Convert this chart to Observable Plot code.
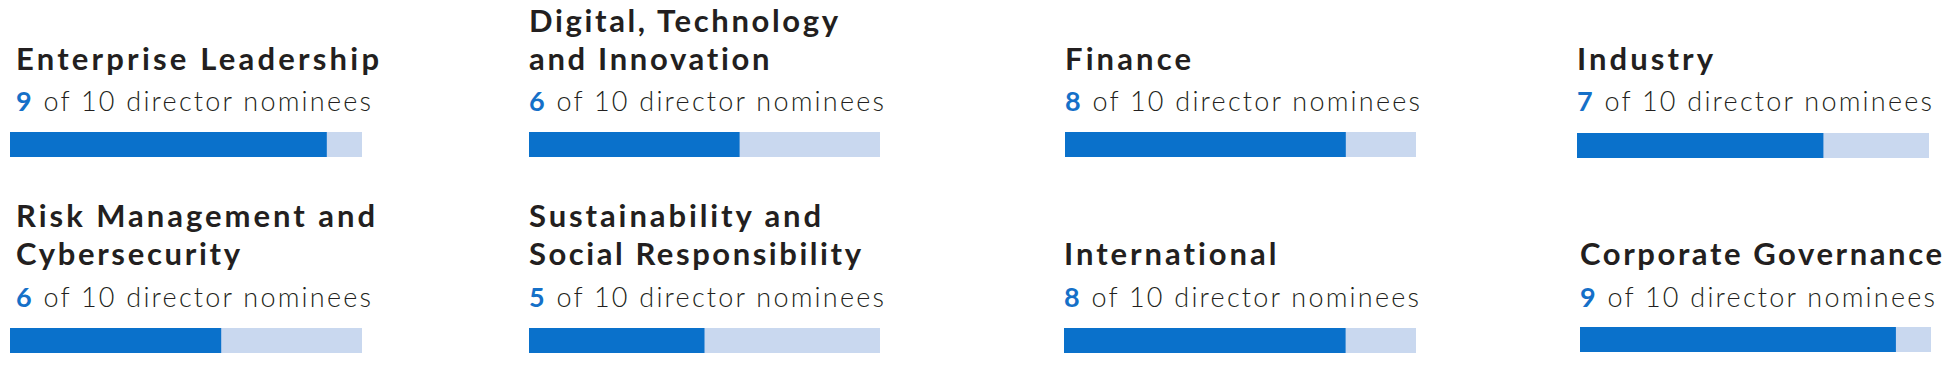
<!DOCTYPE html>
<html>
<head>
<meta charset="utf-8">
<script src="https://cdn.jsdelivr.net/npm/d3@7"></script>
<script src="https://cdn.jsdelivr.net/npm/@observablehq/plot@0.6"></script>
<style>
  html, body { margin: 0; padding: 0; background: #ffffff; }
  #chart { position: relative; width: 1951px; height: 374px; overflow: hidden; font-family: Lato, "Noto Sans", sans-serif; color: #231f20; }
  .line { position: absolute; white-space: nowrap; line-height: 1; }
  .title { font-weight: 700; font-size: 31px; }
  .sub { font-weight: 300; font-size: 27px; }
  .num { font-weight: 700; color: #1570c8; }
  .bar { position: absolute; }
  .bar svg { display: block; }
</style>
</head>
<body>
<div id="chart"></div>
<script>
// ---- data ----
const skills = [
  "Enterprise Leadership",
  "Digital, Technology\nand Innovation",
  "Finance",
  "Industry",
  "Risk Management and\nCybersecurity",
  "Sustainability and\nSocial Responsibility",
  "International",
  "Corporate Governance"
];
const nominees = [9, 6, 8, 7, 6, 5, 8, 9];
const totalNominees = 10;
const subtitleText = "of 10 director nominees";

// ---- layout ----
const textX  = [16, 529, 1065, 1577, 16, 529, 1064, 1580];
const barX   = [10, 529, 1065, 1577, 10, 529, 1064, 1580];
const barW   = [352, 351, 351, 352, 352, 351, 352, 351];
const barTop = [132, 132, 132, 133, 328, 328, 328, 327];
const titleBase = [70, 70, 70, 70, 265, 265, 265, 265];
const subBase   = [111, 111, 111, 111, 307, 307, 307, 307];
// ink widths of each title line in the reference (its typeface is wider than Lato)
const titleLineWidths = [[363], [309, 241], [126], [136], [359, 224], [292, 332], [213], [362]];
const subWidth = 355;
const lineGap = 38;
const barH = 25;
const darkBlue = "#0a71cb";
const lightBlue = "#c9d8ef";

const chart = document.getElementById("chart");
const ASC = 0.887; // baseline offset (em) with line-height 1 for Lato

function track(el, target) {
  const chars = el.textContent.length;
  const w = el.getBoundingClientRect().width;
  el.style.letterSpacing = ((target - w) / (chars - 1)) + "px";
}

skills.forEach((skill, i) => {
  const lines = skill.split("\n");
  lines.forEach((ln, j) => {
    const d = document.createElement("div");
    d.className = "line title";
    const base = titleBase[i] - (lines.length - 1 - j) * lineGap;
    d.style.left = textX[i] + "px";
    d.style.top = (base - ASC * 31) + "px";
    d.textContent = ln;
    chart.appendChild(d);
    track(d, titleLineWidths[i][j]);
  });
  const s = document.createElement("div");
  s.className = "line sub";
  s.style.left = textX[i] + "px";
  s.style.top = (subBase[i] - ASC * 27) + "px";
  const n = document.createElement("span");
  n.className = "num";
  n.textContent = nominees[i];
  s.appendChild(n);
  s.appendChild(document.createTextNode(" " + subtitleText));
  chart.appendChild(s);
  track(s, subWidth);

  const rows = [
    {part: "total", value: totalNominees},
    {part: "nominees", value: nominees[i]}
  ];
  const plot = Plot.plot({
    width: barW[i],
    height: barH,
    margin: 0,
    x: {domain: [0, totalNominees], axis: null},
    color: {domain: ["total", "nominees"], range: [lightBlue, darkBlue]},
    marks: [
      Plot.barX(rows, {x1: () => 0, x2: "value", fill: "part"})
    ]
  });
  const wrap = document.createElement("div");
  wrap.className = "bar";
  wrap.style.left = barX[i] + "px";
  wrap.style.top = barTop[i] + "px";
  wrap.appendChild(plot);
  chart.appendChild(wrap);
});
</script>
</body>
</html>
